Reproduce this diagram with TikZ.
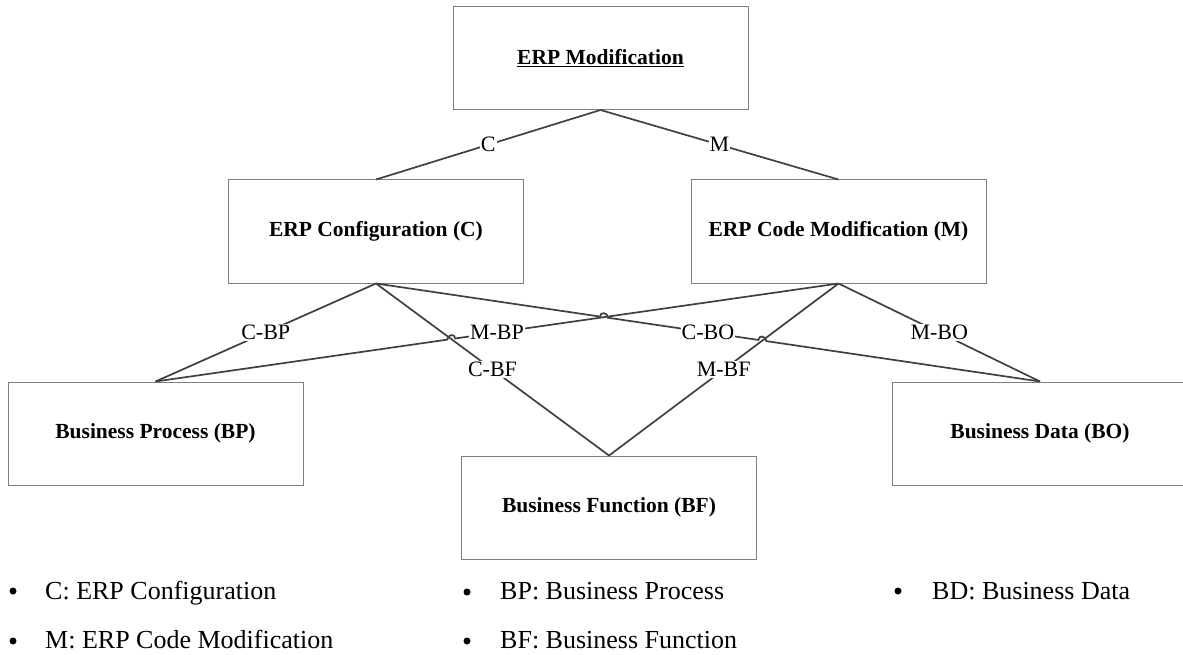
\documentclass[tikz,border=0pt]{standalone}
\usepackage{fontspec}
\setmainfont{Liberation Serif}
\usetikzlibrary{calc, intersections}

\definecolor{boxline}{HTML}{7F7F7F}
\definecolor{linkline}{HTML}{404040}

\tikzset{
  erpbox/.style = {draw = boxline, line width = 1pt, minimum width = 295pt, minimum height = 103pt, inner sep = 0pt, font = \fontsize{21.5}{25}\selectfont\bfseries},
  link/.style = {draw = linkline, line width = 1.7pt},
  lbl/.style = {fill = white, inner sep = 1pt, font = \fontsize{22}{26}\selectfont},
  legend/.style = {anchor = base west, inner sep = 0pt, font = \fontsize{26}{30}\selectfont},
  dot/.style = {circle, fill = black, inner sep = 0pt, minimum size = 7pt},
}

\begin{document}
\begin{tikzpicture}[x = 1pt, y = -1pt]
\useasboundingbox (0,0) rectangle (1183,655);
\node[erpbox](mod) at (600.5,58){\underline{ERP Modification}};
\node[erpbox](conf) at (376,231.5){ERP Configuration (C)};
\node[erpbox](code) at (838.5,231.5){ERP Code Modification (M)};
\node[erpbox](bp) at (155.5,433.5){Business Process (BP)};
\node[erpbox](bf) at (609,507.5){Business Function (BF)};
\node[erpbox](bo) at (1040,433.5){Business Data (BO)};

\path[name path = cbf] (conf.south) -- (bf.north);
\path[name path = mbp] (code.south) -- (bp.north);
\path[name path = mbf] (code.south) -- (bf.north);
\path[name path = cbo] (conf.south) -- (bo.north);
\path[name intersections = {of = cbf and mbp, by = j1}];
\path[name intersections = {of = cbo and mbp, by = j2}];
\path[name intersections = {of = cbo and mbf, by = j3}];

\draw[link] (mod.south) -- (conf.north);
\draw[link] (mod.south) -- (code.north);
\draw[link] (conf.south) -- (bp.north);
\draw[link] (conf.south) -- (bf.north);
\draw[link] (code.south) -- (bf.north);
\draw[link] (code.south) -- (bo.north);
% hops over the crossing lines
\draw[link] (code.south) -- ($(j1)!4pt!(code.south)$) .. controls +(0,-5.3) and +(0,-5.3) .. ($(j1)!4pt!(bp.north)$) -- (bp.north);
\draw[link] (conf.south) -- ($(j2)!4pt!(conf.south)$) .. controls +(0,-5.3) and +(0,-5.3) .. ($(j2)!4pt!(bo.north)$)
  -- ($(j3)!4pt!(conf.south)$) .. controls +(0,-5.3) and +(0,-5.3) .. ($(j3)!4pt!(bo.north)$) -- (bo.north);

\node[lbl](lc) at ($(mod.south)!.5!(conf.north)$){C};
\node[lbl](lm) at ($(mod.south)!.5!(code.north)$){M};
\node[lbl](lcbp) at ($(conf.south)!.5!(bp.north)$){C-BP};
\node[lbl](lcbf) at ($(conf.south)!.5!(bf.north)$){C-BF};
\node[lbl](lcbo) at ($(conf.south)!.5!(bo.north)$){C-BO};
\node[lbl](lmbp) at ($(code.south)!.5!(bp.north)$){M-BP};
\node[lbl](lmbf) at ($(code.south)!.5!(bf.north)$){M-BF};
\node[lbl](lmbo) at ($(code.south)!.5!(bo.north)$){M-BO};

\node[dot](d1) at (13,591){};
\node[legend](t1) at (45,599){C: ERP Configuration};
\node[dot](d2) at (13,641){};
\node[legend](t2) at (45,648){M: ERP Code Modification};
\node[dot](d3) at (467,592){};
\node[legend](t3) at (500,599){BP: Business Process};
\node[dot](d4) at (467,641){};
\node[legend](t4) at (500,648){BF: Business Function};
\node[dot](d5) at (898,591){};
\node[legend](t5) at (932,599){BD: Business Data};
\end{tikzpicture}
\end{document}
